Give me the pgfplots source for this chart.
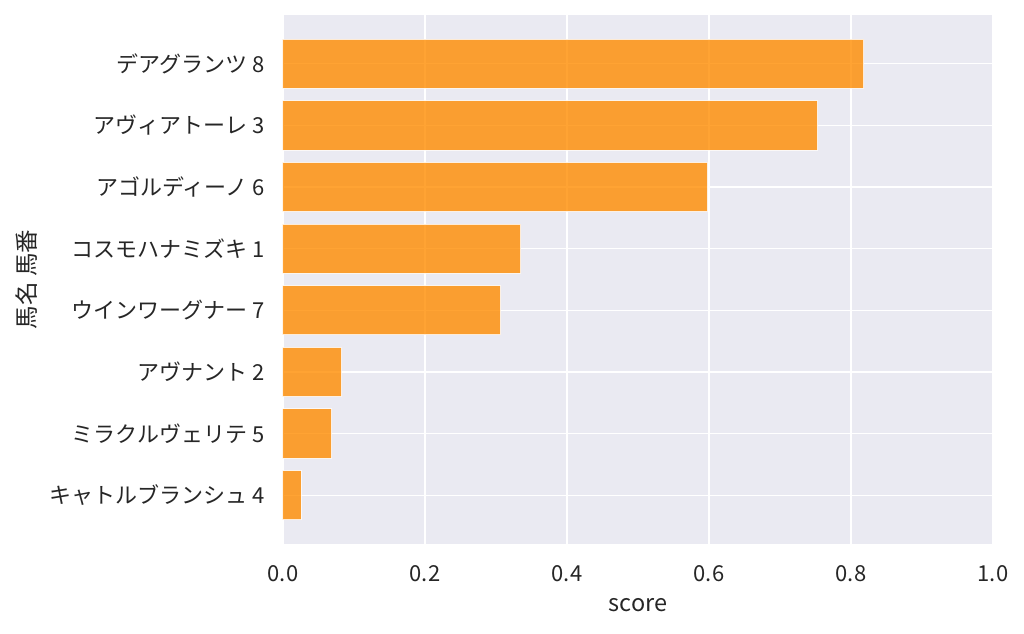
\documentclass[border=0pt]{standalone}
\usepackage{pgfplots}
\pgfplotsset{compat=1.18}
\usepackage{fontspec}
\setmainfont{Noto Sans CJK JP}
\definecolor{bg}{HTML}{EAEAF2}
\definecolor{txt}{HTML}{262626}
\definecolor{baror}{HTML}{FF8C00}
\begin{document}
\begin{tikzpicture}
\path[use as bounding box] (-283bp,-90bp) rectangle (741bp,544bp);
\begin{axis}[
  at={(0,0)}, anchor=south west,
  scale only axis, width=710bp, height=529bp,
  xmin=0, xmax=1, ymin=-0.79, ymax=7.79, y dir=reverse,
  axis background/.style={fill=bg},
  axis line style={draw=none},
  major tick length=0pt,
  grid=major, major grid style={white, line width=1.3bp},
  xtick={0,0.2,0.4,0.6,0.8,1.0},
  xticklabel style={/pgf/number format/fixed, /pgf/number format/fixed zerofill, /pgf/number format/precision=1},
  /pgf/number format/assume math mode=true,
  ytick={0,...,7},
  yticklabels={デアグランツ 8, アヴィアトーレ 3, アゴルディーノ 6, コスモハナミズキ 1, ウインワーグナー 7, アヴナント 2, ミラクルヴェリテ 5, キャトルブランシュ 4},
  tick label style={font=\fontsize{22bp}{26bp}\selectfont, text=txt},
  xticklabel style={yshift=-18bp},
  yticklabel style={xshift=-15bp},
  xlabel={score}, ylabel={馬名 馬番},
  label style={font=\fontsize{23.5bp}{28bp}\selectfont, text=txt},
  xlabel style={yshift=-10bp},
  ylabel style={yshift=5bp},
  xbar, bar width=0.8,
]
\addplot[fill=baror, fill opacity=0.8, draw=white, draw opacity=0.8, line width=1bp] coordinates {
  (0.818,0) (0.753,1) (0.598,2) (0.335,3) (0.3066,4) (0.0826,5) (0.0685,6) (0.0254,7)
};
\end{axis}
\end{tikzpicture}
\end{document}
